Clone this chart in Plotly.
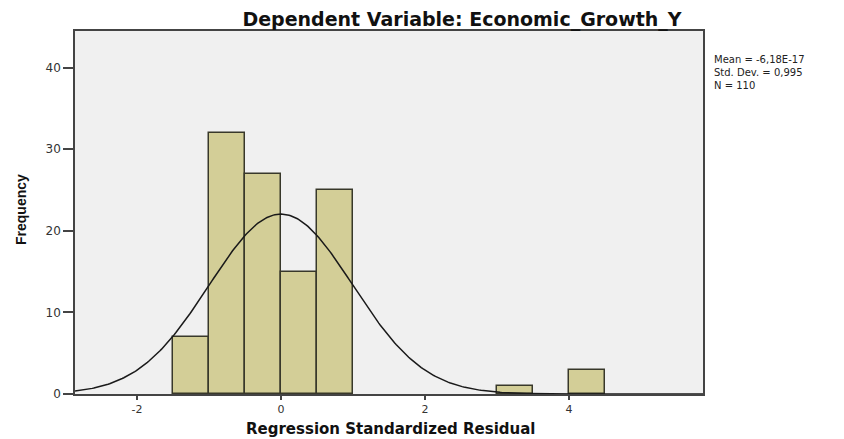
import numpy as np
import plotly.graph_objects as go

# Histogram data (bin width 0.5)
bin_starts = [-1.5, -1.0, -0.5, 0.0, 0.5, 3.0, 4.0]
counts = [7, 32, 27, 15, 25, 1, 3]
bin_width = 0.5

mean_val = -6.18e-17
std_val = 0.995
n_val = 110

x_ticks = [-2, 0, 2, 4]
y_ticks = [0, 10, 20, 30, 40]
stats_lines = ["Mean = -6,18E-17", "Std. Dev. = 0,995", "N = 110"]

centers = [s + bin_width / 2 for s in bin_starts]

# fitted normal curve (scaled to counts)
xs = np.linspace(-2.86, 5.86, 400)
ys = n_val * bin_width * np.exp(-0.5 * ((xs - mean_val) / std_val) ** 2) / (std_val * np.sqrt(2 * np.pi))

W, H = 836, 431  # page body has an 8px margin
PL, PR, PT, PB = 75, 703, 31, 394  # plot area in screen pixels
pw, ph = PR - PL, PB - PT


def px(X):
    return (X - PL) / pw


def py(Y):
    return (PB - Y) / ph


fig = go.Figure()
fig.add_trace(go.Bar(
    x=centers, y=counts, width=[bin_width] * len(centers),
    marker=dict(color="#d3ce97", line=dict(color="#38382a", width=1.5)),
    showlegend=False, hoverinfo="x+y",
))
fig.add_trace(go.Scatter(
    x=xs, y=ys, mode="lines",
    line=dict(color="#1a1a1a", width=1.5),
    showlegend=False, hoverinfo="skip",
))

ann = [
    dict(text="<b>Frequency</b>", x=px(21), y=py(210), textangle=-90,
         font=dict(size=14, color="#111111", family="Liberation Sans, Arial, sans-serif")),
    dict(text="<b>Regression Standardized Residual</b>", x=px(390), y=py(428.5),
         font=dict(size=15, color="#111111", family="DejaVu Sans, sans-serif")),
    dict(text="<br>".join(stats_lines), x=px(712), y=py(52), xanchor="left", yanchor="top",
         align="left", font=dict(size=10, color="#222222", family="DejaVu Sans, sans-serif")),
]
for a in ann:
    a.update(xref="paper", yref="paper", showarrow=False)
    a.setdefault("xanchor", "center")
    a.setdefault("yanchor", "middle")

fig.update_layout(
    width=W, height=H, autosize=False,
    margin=dict(l=PL - 8, r=W - (PR - 8), t=PT - 8, b=H - (PB - 8), pad=0),
    paper_bgcolor="white",
    plot_bgcolor="#f0f0f0",
    font=dict(family="DejaVu Sans, sans-serif", color="#222222"),
    title=dict(
        text="<b>Dependent Variable: Economic_Growth_Y</b>",
        xref="container", yref="container",
        x=(462 - 8) / W, xanchor="center", y=1 - (19 - 8) / H, yanchor="middle",
        font=dict(size=19, color="#111111", family="DejaVu Sans, sans-serif"),
    ),
    bargap=0,
    xaxis=dict(
        range=[-2.86, 5.86], tickvals=x_ticks, ticktext=[str(v) for v in x_ticks],
        showgrid=False, zeroline=False, showline=True, linecolor="#444444", linewidth=1.5,
        mirror=True, ticks="outside", ticklen=4, tickcolor="#444444", tickwidth=1.5,
        tickfont=dict(size=11, color="#333333"), automargin=False,
    ),
    yaxis=dict(
        range=[0, 44.5], tickvals=y_ticks, ticktext=[str(v) for v in y_ticks],
        showgrid=False, zeroline=False, showline=True, linecolor="#444444", linewidth=1.5,
        mirror=True, ticks="outside", ticklen=10, tickcolor="#444444", tickwidth=1.5,
        tickfont=dict(size=12, color="#333333"), automargin=False,
    ),
    annotations=ann,
)

fig.write_html("out.html")
